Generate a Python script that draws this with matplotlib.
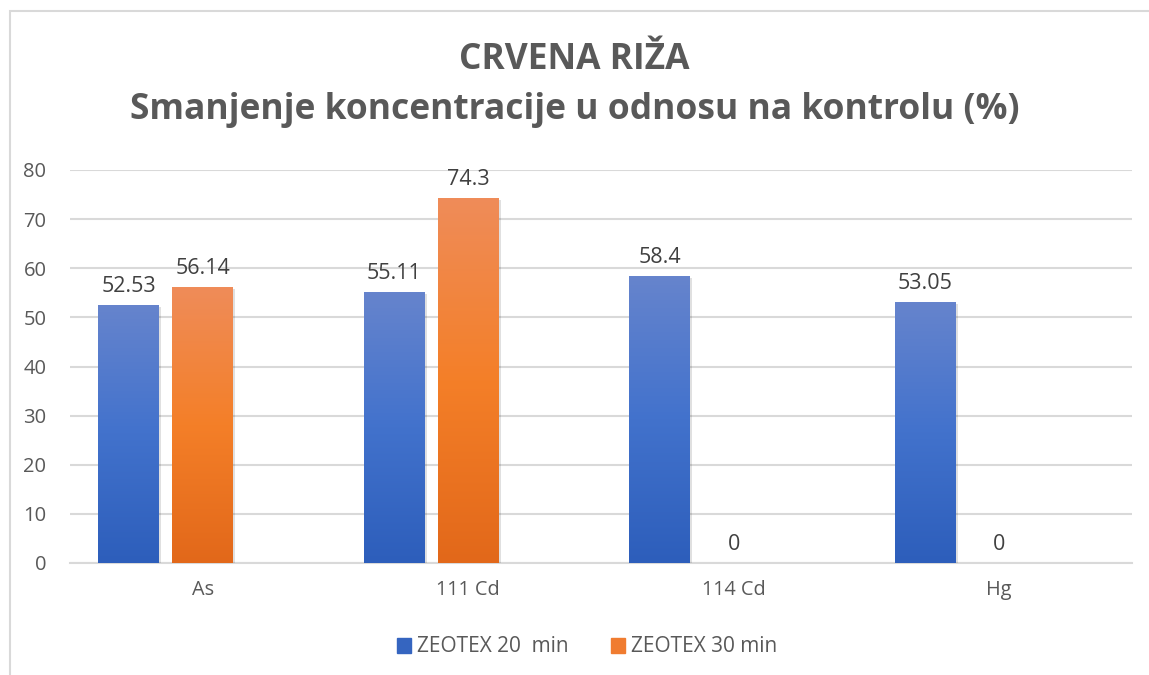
import matplotlib
matplotlib.use("Agg")
import matplotlib.pyplot as plt
import numpy as np
from matplotlib.patches import Rectangle
import matplotlib.patheffects as pe
from matplotlib.colors import LinearSegmentedColormap

plt.rcParams['font.family'] = ['Open Sans', 'DejaVu Sans']

categories = ["As", "111 Cd", "114 Cd", "Hg"]
series_names = ["ZEOTEX 20  min", "ZEOTEX 30 min"]
zeotex20 = [52.53, 55.11, 58.4, 53.05]
zeotex30 = [56.14, 74.3, 0, 0]
label20 = ["52.53", "55.11", "58.4", "53.05"]
label30 = ["56.14", "74.3", "0", "0"]
title_lines = ["CRVENA RIŽA", "Smanjenje koncentracije u odnosu na kontrolu (%)"]

W, H = 1149, 675
fig = plt.figure(figsize=(W / 100, H / 100), dpi=100)
ax = fig.add_axes([70 / W, 1 - 563 / H, (1132 - 70) / W, (563 - 170) / H])

# outer chart border
fig.patches.append(Rectangle((10 / W, -0.05), 1.2, 1 - 11 / H + 0.05, transform=fig.transFigure,
                             fill=False, edgecolor="#d9d9d9", linewidth=1.5, zorder=0))

x = np.arange(len(categories))
pitch = 74 / 265.5
width = 61 / 265.5
offsets = [-pitch, 0.0]

grads = [("#2d5ebb", "#4272cc", "#6684cd"), ("#e2681a", "#f47f28", "#ef8c59")]
legend_cols = ["#3565c0", "#f07c30"]
text_col = "#404040"

def grad_bar(ax, xc, h, w, stops):
    if h <= 0:
        return
    b = ax.bar(xc, h, w, color=stops[1], zorder=3, linewidth=0)[0]
    b.set_path_effects([pe.SimplePatchShadow(offset=(1.5, -1.5), shadow_rgbFace="#000000", alpha=0.12),
                        pe.Normal()])
    cmap = LinearSegmentedColormap.from_list("g", list(stops))
    grad = np.linspace(0, 1, 256).reshape(-1, 1)
    im = ax.imshow(grad, cmap=cmap, aspect="auto", origin="lower",
                   extent=(xc - w / 2, xc + w / 2, 0, h), zorder=4)
    im.set_clip_path(b)

for si, (vals, labs) in enumerate([(zeotex20, label20), (zeotex30, label30)]):
    for i, v in enumerate(vals):
        xc = x[i] + offsets[si]
        grad_bar(ax, xc, v, width, grads[si])
        ax.annotate(labs[i], (xc, v), xytext=(0, 6), textcoords="offset points",
                    ha="center", va="bottom", fontsize=15.5, color=text_col, zorder=5)

ax.set_xlim(-0.5, len(categories) - 0.5)
ax.set_ylim(0, 80)
ax.set_yticks(range(0, 81, 10))
ax.set_xticks(x)
ax.set_xticklabels(categories)
ax.tick_params(axis="both", length=0, labelcolor="#595959")
ax.tick_params(axis="y", labelsize=14.5, pad=17)
ax.tick_params(axis="x", labelsize=14.3, pad=12)
ax.yaxis.grid(True, color="#d9d9d9", linewidth=1.5, zorder=0)
ax.set_axisbelow(True)
for s in ["top", "right", "left"]:
    ax.spines[s].set_visible(False)
ax.spines["bottom"].set_color("#d9d9d9")
ax.spines["bottom"].set_linewidth(1.5)

fig.text(0.5, 1 - 60 / H, title_lines[0], ha="center", va="center", fontsize=25.5,
         fontweight="bold", color="#595959")
fig.text(0.5, 1 - 110 / H, title_lines[1], ha="center", va="center", fontsize=25.5,
         fontweight="bold", color="#595959")

handles = [Rectangle((0, 0), 1, 1, color=legend_cols[0]), Rectangle((0, 0), 1, 1, color=legend_cols[1])]
fig.legend(handles, series_names, loc="center", bbox_to_anchor=(0.511, 1 - 647 / H), ncol=2,
           frameon=False, fontsize=15, labelcolor="#595959", handlelength=0.7, handleheight=0.7,
           handletextpad=0.3, columnspacing=2.0)

fig.savefig("out.png", dpi=100)
